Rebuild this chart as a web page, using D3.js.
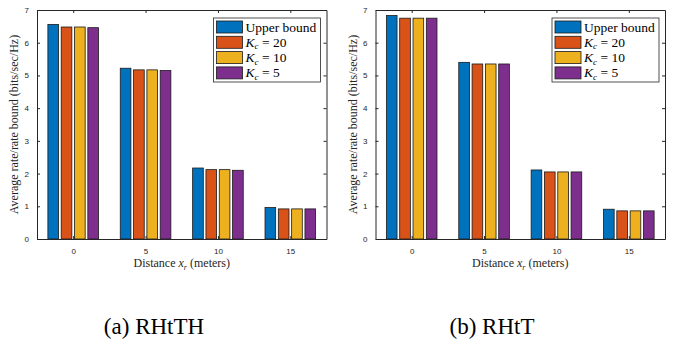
<!DOCTYPE html>
<html>
<head>
<meta charset="utf-8">
<script src="https://cdn.jsdelivr.net/npm/d3@7"></script>
<style>
  body { margin: 0; background: #fff; }
  svg { display: block; }
</style>
</head>
<body>
<script>
// distances on the x axis
const distances = [0, 5, 10, 15];
const yTicks = [0, 1, 2, 3, 4, 5, 6, 7];

// series shown in the legend
const seriesKeys = ["upper", "k20", "k10", "k5"];
const seriesColors = ["#0072BD", "#D95319", "#EDB120", "#7E2F8E"];

// (a) RHtTH
const rhtthUpper = [6.56, 5.22, 2.17, 0.96];
const rhtthK20 = [6.48, 5.17, 2.12, 0.92];
const rhtthK10 = [6.48, 5.17, 2.12, 0.92];
const rhtthK5 = [6.46, 5.15, 2.10, 0.92];

// (b) RHtT
const rhttUpper = [6.83, 5.40, 2.11, 0.91];
const rhttK20 = [6.75, 5.35, 2.05, 0.86];
const rhttK10 = [6.75, 5.35, 2.05, 0.86];
const rhttK5 = [6.75, 5.35, 2.05, 0.86];

const width = 673, height = 339;
const axisColor = "#262626";

const svg = d3.select("body").append("svg")
    .attr("width", width)
    .attr("height", height);

function drawPanel(x0, x1, series, caption, captionX) {
    const top = 10, bottom = 239;

    const x = d3.scaleLinear().domain([-2.5, 17.5]).range([x0, x1]);
    const y = d3.scaleLinear().domain([0, 7]).range([bottom, top]);

    // bars inside one group, in data units around the group centre
    const sub = d3.scaleBand().domain(seriesKeys)
        .range([-1.84, 1.84]).paddingInner(0.2).paddingOuter(0.1);

    const g = svg.append("g");

    // bars
    seriesKeys.forEach((key, s) => {
        g.selectAll(null)
            .data(series[s])
            .enter()
            .append("rect")
            .attr("x", (d, i) => x(distances[i] + sub(key)))
            .attr("width", x(sub.bandwidth()) - x(0))
            .attr("y", d => y(d))
            .attr("height", d => y(0) - y(d))
            .attr("fill", seriesColors[s])
            .attr("stroke", "#1a1a1a")
            .attr("stroke-width", 0.8);
    });

    // axes: bottom + left with labels, top + right as box, ticks inward
    const tickStyle = a => a
        .call(s => s.select(".domain").attr("stroke", axisColor))
        .call(s => s.selectAll(".tick line").attr("stroke", axisColor))
        .call(s => s.selectAll(".tick text")
            .attr("fill", axisColor)
            .style("font-family", "Liberation Sans, Arial, sans-serif")
            .style("font-size", "8px"));

    g.append("g").attr("transform", `translate(0,${bottom})`)
        .call(d3.axisBottom(x).tickValues(distances).tickSizeInner(-3).tickSizeOuter(0).tickPadding(9))
        .call(tickStyle);
    g.append("g").attr("transform", `translate(0,${top})`)
        .call(d3.axisTop(x).tickValues(distances).tickSizeInner(-3).tickSizeOuter(0).tickFormat(""))
        .call(tickStyle);
    g.append("g").attr("transform", `translate(${x0},0)`)
        .call(d3.axisLeft(y).tickValues(yTicks).tickFormat(d3.format("d"))
            .tickSizeInner(-3).tickSizeOuter(0).tickPadding(8))
        .call(tickStyle);
    g.append("g").attr("transform", `translate(${x1},0)`)
        .call(d3.axisRight(y).tickValues(yTicks).tickSizeInner(-3).tickSizeOuter(0).tickFormat(""))
        .call(tickStyle);

    // axis titles
    g.append("text")
        .attr("transform", `translate(${x0 - 19},${(top + bottom) / 2}) rotate(-90)`)
        .attr("text-anchor", "middle")
        .attr("fill", axisColor)
        .style("font-family", "Liberation Serif, serif")
        .style("font-size", "12px")
        .text("Average rate/rate bound (bits/sec/Hz)");

    const xl = g.append("text")
        .attr("x", (x0 + x1) / 2)
        .attr("y", 267)
        .attr("text-anchor", "middle")
        .attr("fill", axisColor)
        .style("font-family", "Liberation Serif, serif")
        .style("font-size", "12px");
    xl.append("tspan").text("Distance ");
    xl.append("tspan").style("font-style", "italic").text("x");
    xl.append("tspan").attr("dy", 2.5).style("font-size", "8px").style("font-style", "italic").text("r");
    xl.append("tspan").attr("dy", -2.5).text(" (meters)");

    // legend
    const lw = 107, lh = 64;
    const lx = x1 - 6 - lw, ly = top + 8;
    const legend = g.append("g").attr("transform", `translate(${lx},${ly})`);
    legend.append("rect")
        .attr("width", lw).attr("height", lh)
        .attr("fill", "#fff").attr("stroke", axisColor).attr("stroke-width", 0.8);

    const labels = [null, "20", "10", "5"];
    seriesKeys.forEach((key, s) => {
        const cy = 9 + s * 15.3;
        legend.append("rect")
            .attr("x", 3).attr("y", cy - 6)
            .attr("width", 26).attr("height", 12)
            .attr("fill", seriesColors[s])
            .attr("stroke", "#1a1a1a").attr("stroke-width", 0.8);
        const t = legend.append("text")
            .attr("x", 32).attr("y", cy + 4.5)
            .attr("fill", "#000")
            .style("font-family", "Liberation Serif, serif")
            .style("font-size", "13.5px");
        if (labels[s] === null) {
            t.text("Upper bound");
        } else {
            t.append("tspan").style("font-style", "italic").text("K");
            t.append("tspan").attr("dy", 2.5).style("font-size", "9px").style("font-style", "italic").text("c");
            t.append("tspan").attr("dy", -2.5).text(" = " + labels[s]);
        }
    });

    // sub-figure caption
    svg.append("text")
        .attr("x", captionX)
        .attr("y", 334)
        .attr("text-anchor", "middle")
        .attr("fill", "#000")
        .style("font-family", "Liberation Serif, Times New Roman, serif")
        .style("font-size", "23px")
        .text(caption);
}

drawPanel(37, 326.5, [rhtthUpper, rhtthK20, rhtthK10, rhtthK5], "(a) RHtTH", 154);
drawPanel(375.5, 665, [rhttUpper, rhttK20, rhttK10, rhttK5], "(b) RHtT", 492);
</script>
</body>
</html>
